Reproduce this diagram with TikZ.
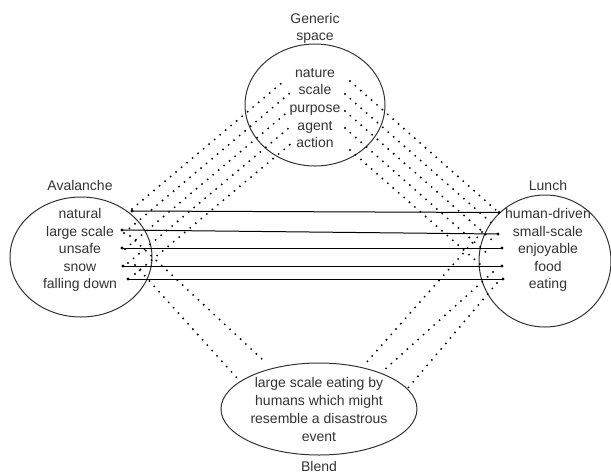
\documentclass[tikz,border=0pt]{standalone}
\usepackage{fontspec}
\setmainfont{Liberation Sans}
\usetikzlibrary{shapes.geometric}
\begin{document}
\begin{tikzpicture}[x=1pt,y=-1pt,
  ell/.style={draw=black!80, line width=1pt, ellipse, inner sep=0pt},
  lbl/.style={font=\fontsize{14}{17}\selectfont, text=black!80, inner sep=0pt, anchor=base},
  dotl/.style={line width=2.1pt, line cap=round, dash pattern=on 0pt off 7.2pt, black},
  hl/.style={line width=1pt, black},
  enddot/.style={fill=black}
]
\useasboundingbox (0,0) rectangle (611,475);

% ellipses
\node[ell, minimum width=140pt, minimum height=122pt] (gen) at (315,105) {};
\node[ell, minimum width=142pt, minimum height=120pt] (ava) at (81,257) {};
\node[ell, minimum width=132pt, minimum height=132pt] (lun) at (545,261) {};
\node[ell, minimum width=196pt, minimum height=92pt] (ble) at (319,409) {};

% dotted connector end points
% upper left
\coordinate (ul1a) at (132,209); \coordinate (ul1b) at (284,81);
\coordinate (ul2a) at (124,233); \coordinate (ul2b) at (290,93);
\coordinate (ul3a) at (125,249); \coordinate (ul3b) at (290,110);
\coordinate (ul4a) at (128,263); \coordinate (ul4b) at (290,127);
\coordinate (ul5a) at (135,274); \coordinate (ul5b) at (293,142);
% upper right
\coordinate (ur1a) at (350,81);  \coordinate (ur1b) at (497,211);
\coordinate (ur2a) at (345,94);  \coordinate (ur2b) at (495,226);
\coordinate (ur3a) at (345,111); \coordinate (ur3b) at (492,240);
\coordinate (ur4a) at (345,128); \coordinate (ur4b) at (488,254);
\coordinate (ur5a) at (350,150); \coordinate (ur5b) at (482,266);
% lower left
\coordinate (ll1a) at (130,236); \coordinate (ll1b) at (263,360);
\coordinate (ll2a) at (135,265); \coordinate (ll2b) at (237,378);
% lower right
\coordinate (lr1a) at (482,232); \coordinate (lr1b) at (365,364);
\coordinate (lr2a) at (493,272); \coordinate (lr2b) at (382,372);
\coordinate (lr3a) at (497,283); \coordinate (lr3b) at (408,388);

\foreach \p in {ul1,ul2,ul3,ul4,ul5,ur1,ur2,ur3,ur4,ur5,ll1,ll2,lr1,lr2,lr3}
  \draw[dotl] (\p a) -- (\p b);

% horizontal connectors
\coordinate (h1a) at (132,211); \coordinate (h1b) at (499,212.5);
\coordinate (h2a) at (122,230); \coordinate (h2b) at (498,234);
\coordinate (h3a) at (122,248); \coordinate (h3b) at (502,248);
\coordinate (h4a) at (123,266); \coordinate (h4b) at (502,266);
\coordinate (h5a) at (128,279); \coordinate (h5b) at (503,279);
\foreach \p in {h1,h2,h3,h4,h5}{
  \draw[hl] (\p a) -- (\p b);
  \fill[enddot] (\p a) circle (1.6pt);
  \fill[enddot] (\p b) circle (1.6pt);
}

% labels
\node[lbl] (genl1) at (315,23) {Generic};
\node[lbl] (genl2) at (315,40) {space};
\node[lbl] (g1) at (315,77) {nature};
\node[lbl] (g2) at (315,94) {scale};
\node[lbl] (g3) at (315,112) {purpose};
\node[lbl] (g4) at (315,130) {agent};
\node[lbl] (g5) at (315,147) {action};

\node[lbl] (aval) at (80,190) {Avalanche};
\node[lbl] (a1) at (80,218) {natural};
\node[lbl] (a2) at (80,236) {large scale};
\node[lbl] (a3) at (80,253) {unsafe};
\node[lbl] (a4) at (80,271) {snow};
\node[lbl] (a5) at (80,288) {falling down};

\node[lbl] (lunl) at (548,190) {Lunch};
\node[lbl] (l1) at (548,218) {human-driven};
\node[lbl] (l2) at (548,236) {small-scale};
\node[lbl] (l3) at (548,253) {enjoyable};
\node[lbl] (l4) at (548,271) {food};
\node[lbl] (l5) at (548,288) {eating};

\node[lbl] (b1) at (319,387) {large scale eating by};
\node[lbl] (b2) at (319,405) {humans which might};
\node[lbl] (b3) at (319,423) {resemble a disastrous};
\node[lbl] (b4) at (319,441) {event};
\node[lbl] (blel) at (319,471) {Blend};
\end{tikzpicture}
\end{document}
